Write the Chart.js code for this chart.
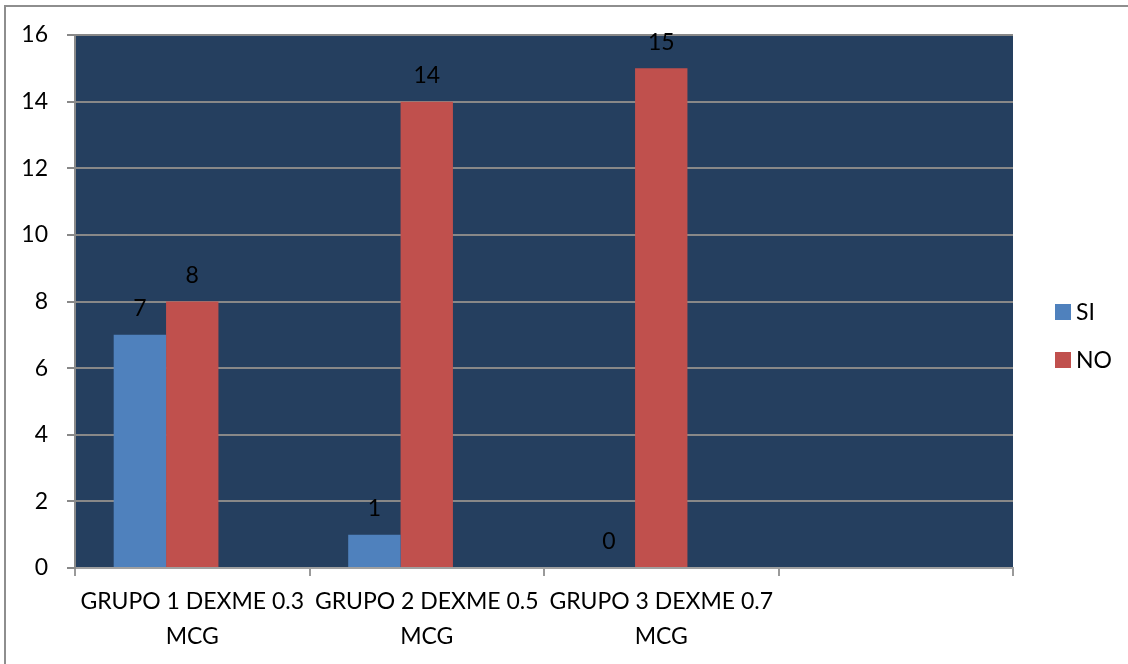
<!DOCTYPE html>
<html>
<head>
<meta charset="utf-8">
<script src="https://cdn.jsdelivr.net/npm/chart.js@4.4.1/dist/chart.umd.min.js"></script>
<style>
  html, body { margin: 0; padding: 0; background: #fff; }
  #wrap { position: relative; width: 1128px; height: 664px; }
</style>
</head>
<body>
<div id="wrap"><canvas id="chart" width="1128" height="664"></canvas></div>
<script>
// categories (the fourth slot is left empty)
const groups = [
    ['GRUPO 1 DEXME 0.3', 'MCG'],
    ['GRUPO 2 DEXME 0.5', 'MCG'],
    ['GRUPO 3 DEXME 0.7', 'MCG'],
    ''
];
const siValues = [7, 1, 0, null];
const noValues = [8, 14, 15, null];
const blankValues = [null, null, null, null];
const seriesNames = ['SI', 'NO'];
const yTicks = [0, 2, 4, 6, 8, 10, 12, 14, 16];

const FONT = 'Lato, "Open Sans", sans-serif';
const FONT_SIZE = 23;
const NAVY = '#253f5f';
const BLUE = '#4f81bd';
const RED = '#c0504d';

// fill the plot area and draw the outer frame
const plotBackground = {
    id: 'plotBackground',
    beforeDraw(chart) {
        const { ctx, chartArea: a } = chart;
        ctx.save();
        ctx.fillStyle = NAVY;
        ctx.fillRect(a.left, a.top, a.right - a.left, a.bottom - a.top);
        ctx.strokeStyle = '#8e8e8e';
        ctx.lineWidth = 2;
        ctx.beginPath();
        ctx.moveTo(5, chart.height);
        ctx.lineTo(5, 6);
        ctx.lineTo(chart.width, 6);
        ctx.stroke();
        ctx.restore();
    }
};

// value labels above each bar
const valueLabels = {
    id: 'valueLabels',
    afterDatasetsDraw(chart) {
        const ctx = chart.ctx;
        ctx.save();
        ctx.font = FONT_SIZE + 'px ' + FONT;
        ctx.fillStyle = '#000';
        ctx.textAlign = 'center';
        ctx.textBaseline = 'middle';
        [0, 1].forEach(i => {
            const meta = chart.getDatasetMeta(i);
            meta.data.forEach((bar, j) => {
                const v = chart.data.datasets[i].data[j];
                if (v === null || v === undefined) return;
                ctx.fillText(String(v), bar.x, bar.y - 26);
            });
        });
        ctx.restore();
    }
};

// legend on the right side
const sideLegend = {
    id: 'sideLegend',
    afterDraw(chart) {
        const ctx = chart.ctx;
        ctx.save();
        ctx.font = FONT_SIZE + 'px ' + FONT;
        ctx.textBaseline = 'middle';
        ctx.textAlign = 'left';
        seriesNames.forEach((name, i) => {
            const y = 312 + i * 48;
            ctx.fillStyle = chart.data.datasets[i].backgroundColor;
            ctx.fillRect(1055, y - 8, 16, 16);
            ctx.fillStyle = '#000';
            ctx.fillText(name, 1076, y + 1);
        });
        ctx.restore();
    }
};

new Chart(document.getElementById('chart'), {
    type: 'bar',
    data: {
        labels: groups,
        datasets: [
            { label: seriesNames[0], data: siValues, backgroundColor: BLUE },
            { label: seriesNames[1], data: noValues, backgroundColor: RED },
            { label: '', data: blankValues, backgroundColor: 'rgba(0,0,0,0)' }
        ]
    },
    options: {
        responsive: false,
        animation: false,
        layout: { padding: { top: 35, right: 115, left: 0, bottom: 0 } },
        datasets: { bar: { categoryPercentage: 0.67, barPercentage: 1 } },
        plugins: {
            legend: { display: false },
            tooltip: { enabled: false }
        },
        scales: {
            x: {
                grid: {
                    offset: true,
                    drawOnChartArea: false,
                    color: '#9a9a9a',
                    lineWidth: 2,
                    tickLength: 8
                },
                border: { color: '#a0a0a0', width: 2 },
                ticks: {
                    color: '#000',
                    font: { family: FONT, size: FONT_SIZE, lineHeight: 1.52 },
                    padding: 8,
                    maxRotation: 0,
                    autoSkip: false
                },
                afterFit(scale) { scale.height = 96; }
            },
            y: {
                min: 0,
                max: 16,
                afterBuildTicks(scale) {
                    scale.ticks = yTicks.map(v => ({ value: v }));
                },
                grid: {
                    color: '#888888',
                    lineWidth: 2,
                    tickLength: 8
                },
                border: { color: '#8a8a8a', width: 2 },
                ticks: {
                    color: '#000',
                    font: { family: FONT, size: FONT_SIZE },
                    padding: 19
                },
                afterFit(scale) { scale.width = 75; }
            }
        }
    },
    plugins: [plotBackground, valueLabels, sideLegend]
});
</script>
</body>
</html>
